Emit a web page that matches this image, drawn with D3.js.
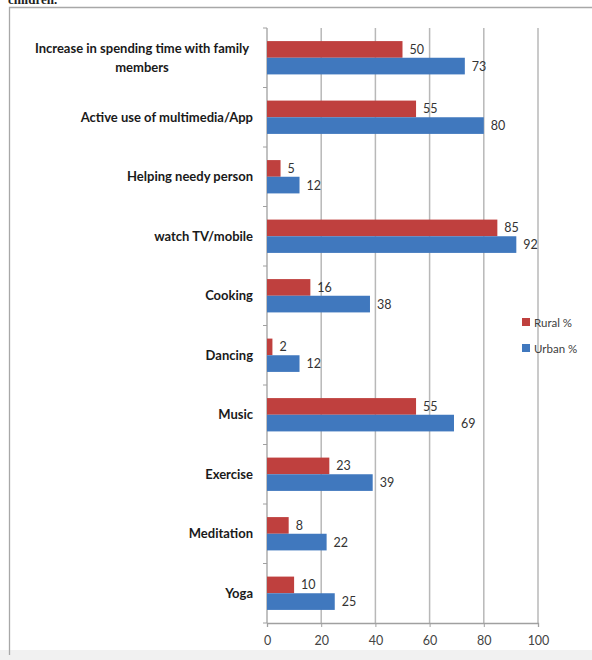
<!DOCTYPE html>
<html>
<head>
<meta charset="utf-8">
<script src="https://cdn.jsdelivr.net/npm/d3@7"></script>
<style>
  body { margin: 0; background: #fff; }
  svg { display: block; font-family: Lato, "Open Sans", sans-serif; }
</style>
</head>
<body>
<svg id="canvas" width="592" height="660"></svg>
<script>
let categories = ["Increase in spending time with family members", "Active use of multimedia/App",
  "Helping needy person", "watch TV/mobile", "Cooking", "Dancing", "Music", "Exercise",
  "Meditation", "Yoga"]
let rural = [50, 55, 5, 85, 16, 2, 55, 23, 8, 10]
let urban = [73, 80, 12, 92, 38, 12, 69, 39, 22, 25]
let seriesNames = ["Rural %", "Urban %"]
let xTicks = [0, 20, 40, 60, 80, 100]

let colors = {"Rural %": "#bf403e", "Urban %": "#4078be"}

let svg = d3.select('#canvas')

// page bits around the chart frame
svg.append('rect').attr('x', 0).attr('y', 650).attr('width', 592).attr('height', 10).attr('fill', '#f1f1f1')
svg.append('text').text('children.')
   .attr('x', 8).attr('y', 4)
   .style('font-family', '"Liberation Serif", serif').style('font-weight', 'bold').style('font-size', '13px')
   .attr('fill', '#222')
svg.append('path').attr('d', 'M592,7.5 H9.5 V655').attr('fill', 'none').attr('stroke', '#a8a8a8').attr('stroke-width', 1.3)

let x = d3.scaleLinear().domain([0, 100]).range([267, 538])
let y = d3.scaleBand().domain(categories).range([28, 623])
let sub = d3.scaleBand().domain(seriesNames)
            .range([y.bandwidth() * 0.22, y.bandwidth() * 0.78])

// gridlines
svg.append('g').selectAll('line')
   .data(xTicks.slice(1))
   .enter()
   .append('line')
   .attr('x1', (d) => x(d)).attr('x2', (d) => x(d))
   .attr('y1', 28).attr('y2', 623)
   .attr('stroke', '#b8b8b8').attr('stroke-width', 1.5)

// bottom axis
let xAxis = d3.axisBottom(x).tickValues(xTicks).tickSize(4).tickPadding(9)
let gx = svg.append('g').attr('transform', 'translate(0,623)').call(xAxis)
gx.select('.domain').attr('stroke', '#a0a0a0').attr('stroke-width', 1.3)
gx.selectAll('.tick line').attr('stroke', '#a0a0a0')
gx.selectAll('.tick text').attr('fill', '#444').style('font-size', '12.5px').style('font-family', 'Lato, sans-serif')

// left axis with boundary ticks
svg.append('line').attr('x1', 267).attr('x2', 267).attr('y1', 28).attr('y2', 623)
   .attr('stroke', '#a0a0a0').attr('stroke-width', 1.3)
svg.append('g').selectAll('line')
   .data(d3.range(categories.length + 1))
   .enter()
   .append('line')
   .attr('x1', 263).attr('x2', 267)
   .attr('y1', (i) => 28 + i * y.step()).attr('y2', (i) => 28 + i * y.step())
   .attr('stroke', '#a0a0a0')

// bars
let rows = []
categories.forEach((c, i) => {
  rows.push({cat: c, series: "Rural %", value: rural[i]})
  rows.push({cat: c, series: "Urban %", value: urban[i]})
})

let block = svg.append('g').selectAll('g')
   .data(rows)
   .enter()
   .append('g')
   .attr('transform', (d) => 'translate(0,' + (y(d.cat) + sub(d.series)) + ')')

block.append('rect')
     .attr('x', x(0))
     .attr('y', 0)
     .attr('width', (d) => x(d.value) - x(0))
     .attr('height', sub.bandwidth())
     .attr('fill', (d) => colors[d.series])

block.append('text')
     .text((d) => d.value)
     .attr('x', (d) => x(d.value) + 7)
     .attr('y', sub.bandwidth() / 2 + 4.5)
     .attr('fill', '#333')
     .style('font-size', '12.5px')

// category labels
let labels = svg.append('g').selectAll('text')
   .data(categories)
   .enter()
   .append('text')
   .attr('fill', '#1a1a1a')
   .style('font-size', '13px')
   .style('font-weight', 'bold')

labels.each(function (c) {
  let t = d3.select(this)
  let cy = y(c) + y.bandwidth() / 2
  let words = c.split(' ')
  let lines = [], line = []
  t.text(c)
  if (this.getComputedTextLength() <= 232) {
    t.attr('x', 253).attr('y', cy + 4.5).attr('text-anchor', 'end')
    return
  }
  t.text(null)
  words.forEach((w) => {
    let tryLine = line.concat([w]).join(' ')
    t.text(tryLine)
    if (this.getComputedTextLength() > 232 && line.length) {
      lines.push(line.join(' '))
      line = [w]
    } else {
      line.push(w)
    }
  })
  lines.push(line.join(' '))
  t.text(null).attr('text-anchor', 'middle')
  lines.forEach((l, k) => {
    t.append('tspan')
     .attr('x', 142)
     .attr('y', cy + 4.5 + (k - (lines.length - 1) / 2) * 19)
     .text(l)
  })
})

// legend
let legend = svg.append('g').selectAll('g')
   .data(seriesNames)
   .enter()
   .append('g')
   .attr('transform', (d, i) => 'translate(522,' + (318 + i * 26) + ')')

legend.append('rect').attr('width', 8).attr('height', 8).attr('fill', (d) => colors[d])
legend.append('text').text((d) => d)
      .attr('x', 12).attr('y', 8.5)
      .attr('fill', '#404040')
      .style('font-size', '11.5px')
</script>
</body>
</html>
